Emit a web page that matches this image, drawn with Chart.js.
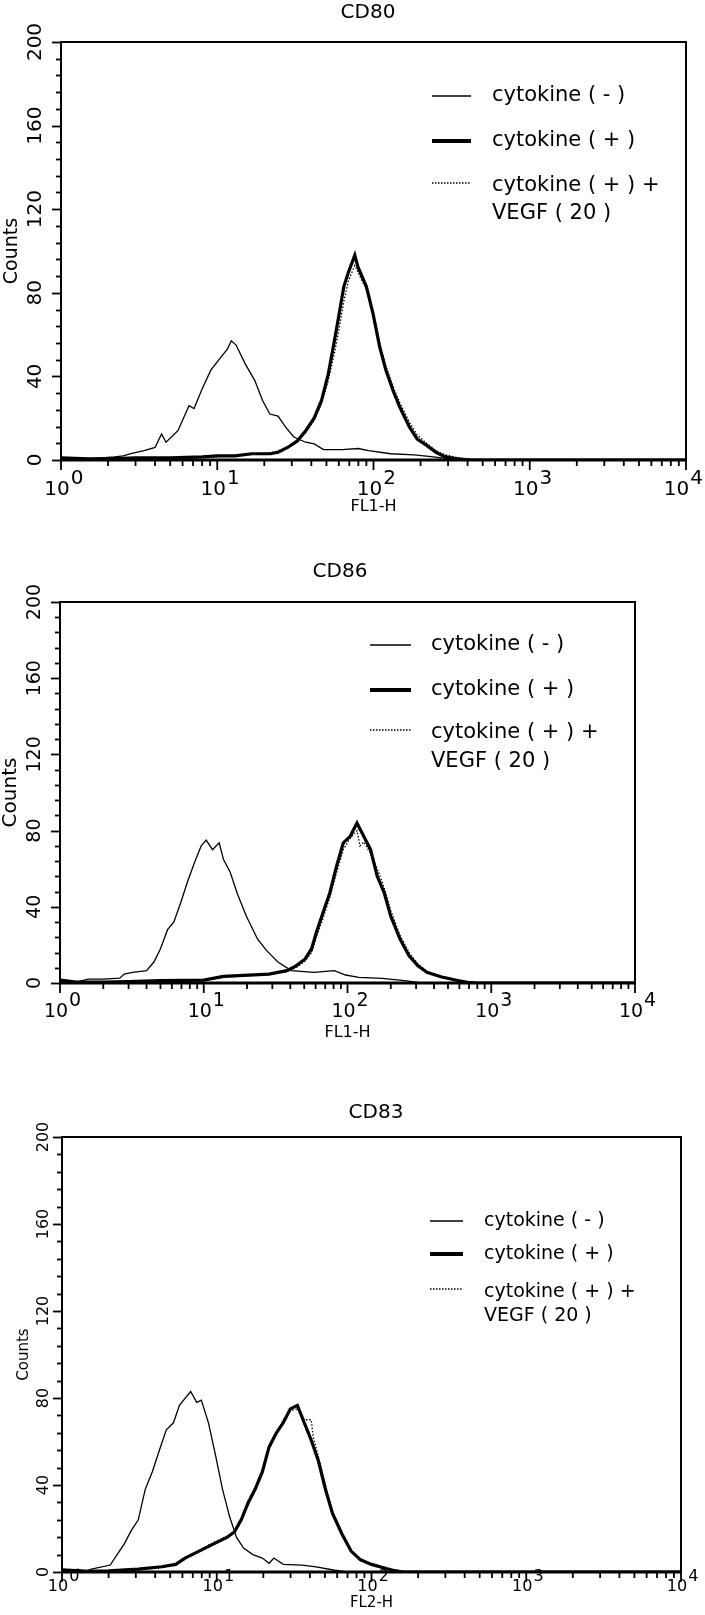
<!DOCTYPE html>
<html>
<head>
<meta charset="utf-8">
<script src="https://cdn.jsdelivr.net/npm/chart.js@4.4.1/dist/chart.umd.min.js"></script>
<style>
  html, body { margin: 0; padding: 0; background: #ffffff; }
  #wrap { position: relative; width: 705px; height: 1615px; overflow: hidden; }
  canvas { position: absolute; left: 0; }
</style>
</head>
<body>
<div id="wrap">
  <canvas id="c1" width="705" height="530" style="top:0px"></canvas>
  <canvas id="c2" width="705" height="540" style="top:530px"></canvas>
  <canvas id="c3" width="705" height="545" style="top:1070px"></canvas>
</div>
<script>
// ---------------- DATA ----------------
const panelTitles = ['CD80', 'CD86', 'CD83'];
const xAxisTitles = ['FL1-H', 'FL1-H', 'FL2-H'];
const yAxisTitle = 'Counts';
const xTickExponents = [0, 1, 2, 3, 4];
const xMinorMultipliers = [2, 3, 4, 5, 6, 7, 8, 9];
const yTickValues = [0, 40, 80, 120, 160, 200];
const yMinorStep = 8;
const seriesNames = ['cytokine ( - )', 'cytokine ( + )', 'cytokine ( + ) +'];
const seriesNameLine2 = 'VEGF ( 20 )';

// CD80 (FL1-H)
const cd80NegX = [1, 1.4, 1.8, 2.2, 2.5, 2.8, 3.4, 4.0, 4.4, 4.7, 5.6, 6.6, 7.1, 8.0, 9.1, 10.5, 11.6, 12.3, 13.2, 15.1, 17.4, 19.5, 21.7, 24.5, 27.4, 30.9, 36.8, 41.7, 47.9, 63, 80, 93, 129, 182, 234, 309, 400, 10000];
const cd80NegY = [1, 0.5, 1, 1.5, 2, 3, 4.5, 6, 12.5, 8.5, 14, 26, 24.6, 34, 43, 49, 53, 57, 55, 46, 38, 28.5, 22, 21, 15.7, 11, 8.5, 7.7, 5, 5, 5.5, 4.5, 3, 2.5, 1.6, 0.5, 0, 0];
const cd80PosX = [1, 1.5, 2, 3, 5, 8, 10, 13, 16.6, 21.9, 24.5, 28.2, 32.4, 36.8, 41.7, 46.5, 51.3, 56.2, 60.3, 64.6, 69.2, 75.9, 79.4, 90, 99.3, 109.6, 120, 133.7, 148, 170, 190.5, 218.8, 251, 286, 347, 420, 10000];
const cd80PosY = [1, 0.5, 0.5, 1, 1, 1.5, 2, 2, 3, 3, 3.7, 6, 9, 14, 20, 28.5, 41, 57, 70, 83, 90, 98, 92.5, 83, 70, 54, 43, 33, 25, 15.7, 10, 7, 3.7, 1.6, 0.5, 0, 0];
const cd80VegfX = [1, 2, 5, 10, 16, 22, 28, 32.4, 36.8, 41.7, 46.5, 51.3, 56.2, 60.3, 64.6, 69.2, 75.9, 79.4, 84, 90, 99.3, 109.6, 120, 133.7, 148, 170, 190.5, 218.8, 251, 286, 330, 380, 450, 10000];
const cd80VegfY = [0.5, 0.5, 1, 1.5, 2.5, 3.5, 5.5, 8.5, 13, 19, 27, 38, 51, 63, 76, 86, 93, 90, 86, 82, 71, 56, 45, 35, 27, 18, 12, 8, 4.5, 2.5, 1.5, 0.5, 0, 0];

// CD86 (FL1-H)
const cd86NegX = [1, 1.3, 1.57, 2.0, 2.6, 2.8, 3.2, 4.0, 4.5, 5.0, 5.6, 6.2, 6.9, 7.7, 8.6, 9.6, 10.4, 11.5, 12.8, 13.7, 15.3, 17.1, 19.8, 23.7, 27.4, 32.8, 40.7, 58.5, 81, 97, 120, 174, 249, 309, 400, 10000];
const cd86NegY = [1, 0.5, 2, 2, 2.5, 4.7, 5.6, 6.5, 11, 18, 28, 32, 42, 53, 63, 72, 75, 70, 73.6, 65, 58, 47, 35, 23, 17, 11, 6.5, 5.6, 6.5, 4.2, 3, 2.4, 1.2, 0.3, 0, 0];
const cd86PosX = [1, 1.3, 2, 3, 5, 10, 13.7, 28.4, 37.9, 43.8, 50.6, 56.3, 60.7, 67.6, 75.4, 84, 93.5, 104.4, 116.4, 129.7, 144.7, 161, 180, 200, 232, 268, 309, 357, 446, 594, 686, 800, 10000];
const cd86PosY = [1.5, 0.5, 0.5, 0.8, 1.2, 1.5, 3.5, 4.7, 6.5, 9, 12.5, 18, 26.5, 37, 47.4, 61.4, 73.6, 77, 84, 77, 70, 56, 47.4, 35, 23, 14.3, 9, 5.6, 3.3, 1.2, 0.3, 0, 0];
const cd86VegfX = [1, 2, 5, 10, 13.7, 28.4, 37.9, 43.8, 50.6, 56.3, 60.7, 67.6, 75.4, 84, 93.5, 104.4, 116.4, 122, 129.7, 144.7, 161, 180, 200, 232, 268, 309, 357, 446, 594, 686, 800, 10000];
const cd86VegfY = [1, 0.5, 1, 1.5, 3, 4.5, 6, 8, 11.5, 16, 24, 34, 45, 58, 70, 76, 80, 72, 74, 68, 60, 50, 38, 25, 16, 10, 6, 3.5, 1.5, 0.5, 0, 0];

// CD83 (FL2-H)
const cd83NegX = [1, 1.09, 1.26, 1.4, 1.55, 2.05, 2.27, 2.52, 2.8, 3.11, 3.45, 3.83, 4.26, 4.72, 5.25, 5.74, 6.24, 6.78, 7.43, 7.95, 8.84, 9.8, 10.9, 12.1, 13.4, 14.9, 17.1, 19.7, 21.8, 23.4, 26.9, 35.6, 43.8, 57.9, 70, 10000];
const cd83NegY = [1.5, 0, 1.3, 0.2, 1.3, 3.2, 8, 12.8, 19, 24, 38, 46, 56, 65.4, 68.6, 76.6, 79.8, 83, 78, 79, 68.6, 54, 38, 25.5, 16, 11, 8, 6.4, 4, 6.4, 3.5, 3.2, 2.4, 0.8, 0, 0];
const cd83PosX = [1, 1.5, 2, 3.11, 4.4, 5.43, 6.24, 7.69, 9.48, 11.7, 13, 14.4, 16, 17.7, 19.7, 21.8, 24.3, 26.9, 29.9, 33.2, 36.8, 40.8, 45.4, 50.4, 55.9, 64.3, 73.8, 84.9, 100, 124, 138, 160, 10000];
const cd83PosY = [1, 0.3, 0.5, 1.3, 2.4, 3.5, 6.4, 9.6, 12.8, 16, 18.4, 24, 32, 38, 46, 57.5, 64, 68.6, 75, 76.6, 68.6, 60.6, 51, 38, 27, 17.6, 9.6, 5.6, 3.5, 1.6, 0.8, 0, 0];
const cd83VegfX = [1, 2, 3.11, 4.4, 5.43, 6.24, 7.69, 9.48, 11.7, 13, 14.4, 16, 17.7, 19.7, 21.8, 24.3, 26.9, 29.9, 33.2, 36.8, 40.8, 42, 45.4, 50.4, 55.9, 64.3, 73.8, 84.9, 100, 124, 138, 160, 10000];
const cd83VegfY = [0.5, 0.5, 1, 2, 3.5, 6, 10, 13.5, 16.5, 19, 25, 33, 39, 47, 57, 64, 70, 74, 75, 70, 70, 62, 53, 40, 28, 18, 10, 6, 3.5, 2, 1, 0, 0];

// ---------------- RENDER ----------------
const FONT = '"DejaVu Sans", "Liberation Sans", Arial, sans-serif';
const pts = (xs, ys) => xs.map((x, i) => ({ x: x, y: ys[i] }));

const panels = [
  { id: 'c1', neg: [cd80NegX, cd80NegY], pos: [cd80PosX, cd80PosY], vegf: [cd80VegfX, cd80VegfY],
    pad: { left: 61, top: 42, right: 19, bottom: 70 },
    titleX: 368, titleY: 13, titleSize: 20,
    tickSize: 20, xLabelBase: 495, supRaise: 11, yLabelX: 36,
    countsX: 12, countsSize: 19, xTitleY: 507, xTitleSize: 16,
    legLine: [432, 471], legTextX: 492, legRows: [96, 141, 186, 214], legSize: 21 },
  { id: 'c2', neg: [cd86NegX, cd86NegY], pos: [cd86PosX, cd86PosY], vegf: [cd86VegfX, cd86VegfY],
    pad: { left: 60, top: 72, right: 70, bottom: 87 },
    titleX: 340, titleY: 42, titleSize: 20,
    tickSize: 19, xLabelBase: 487, supRaise: 11, yLabelX: 35,
    countsX: 11, countsSize: 20, xTitleY: 503, xTitleSize: 16,
    legLine: [370, 411], legTextX: 431, legRows: [115, 160, 203, 232], legSize: 21 },
  { id: 'c3', neg: [cd83NegX, cd83NegY], pos: [cd83PosX, cd83PosY], vegf: [cd83VegfX, cd83VegfY],
    pad: { left: 62, top: 67, right: 24, bottom: 43 },
    titleX: 376, titleY: 43, titleSize: 20,
    tickSize: 16, xLabelBase: 521, supRaise: 10, yLabelX: 44,
    countsX: 24, countsSize: 15, xTitleY: 533, xTitleSize: 15,
    legLine: [430, 463], legTextX: 484, legRows: [151, 184, 222, 246], legSize: 19 }
];

const panelPlugin = {
  id: 'panelDecor',
  afterDraw(chart, args, o) {
    const ctx = chart.ctx, ca = chart.chartArea;
    const xs = chart.scales.x, ys = chart.scales.y;
    ctx.save();
    ctx.strokeStyle = '#000';
    ctx.fillStyle = '#000';
    // frame
    ctx.lineWidth = 2;
    ctx.strokeRect(ca.left, ca.top, ca.right - ca.left, ca.bottom - ca.top);
    ctx.lineWidth = 3;
    ctx.beginPath(); ctx.moveTo(ca.left - 1, ca.bottom); ctx.lineTo(ca.right + 1, ca.bottom); ctx.stroke();
    // y ticks
    ctx.lineWidth = 1.8;
    for (let v = 0; v <= 200; v += yMinorStep) {
      const y = Math.round(ys.getPixelForValue(v)) + 0.5;
      const major = yTickValues.indexOf(v) >= 0;
      ctx.beginPath(); ctx.moveTo(ca.left, y); ctx.lineTo(ca.left - (major ? 9 : 5), y); ctx.stroke();
    }
    // x ticks
    for (let i = 0; i < xTickExponents.length; i++) {
      const e = xTickExponents[i];
      const px = xs.getPixelForValue(Math.pow(10, e));
      ctx.beginPath(); ctx.moveTo(px, ca.bottom); ctx.lineTo(px, ca.bottom + 10); ctx.stroke();
      if (i < xTickExponents.length - 1) {
        for (const m of xMinorMultipliers) {
          const mx = xs.getPixelForValue(m * Math.pow(10, e));
          ctx.beginPath(); ctx.moveTo(mx, ca.bottom); ctx.lineTo(mx, ca.bottom + 6); ctx.stroke();
        }
      }
    }
    // x tick labels (10 with raised exponent)
    const baseFont = o.tickSize + 'px ' + FONT;
    const supFont = o.tickSize + 'px ' + FONT;
    ctx.textBaseline = 'alphabetic';
    ctx.textAlign = 'left';
    for (const e of xTickExponents) {
      const px = xs.getPixelForValue(Math.pow(10, e));
      ctx.font = baseFont;
      const w10 = ctx.measureText('10').width;
      ctx.font = supFont;
      const ws = ctx.measureText(String(e)).width;
      let left = px - 4 - w10 / 2;
      if (left + w10 + 1 + ws > chart.width - 2) left = chart.width - 2 - w10 - 1 - ws;
      ctx.font = baseFont;
      ctx.fillText('10', left, o.xLabelBase);
      ctx.font = supFont;
      ctx.fillText(String(e), left + w10 + 1, o.xLabelBase - o.supRaise);
    }
    // y tick labels rotated
    ctx.font = baseFont;
    ctx.textAlign = 'center';
    ctx.textBaseline = 'middle';
    for (const v of yTickValues) {
      const y = ys.getPixelForValue(v);
      ctx.save();
      ctx.translate(o.yLabelX, y);
      ctx.rotate(-Math.PI / 2);
      ctx.fillText(String(v), 0, 0);
      ctx.restore();
    }
    // axis titles
    ctx.save();
    ctx.font = o.countsSize + 'px ' + FONT;
    ctx.translate(o.countsX, (ca.top + ca.bottom) / 2);
    ctx.rotate(-Math.PI / 2);
    ctx.fillText(yAxisTitle, 0, 0);
    ctx.restore();
    ctx.font = o.xTitleSize + 'px ' + FONT;
    ctx.fillText(o.xTitle, (ca.left + ca.right) / 2, o.xTitleY);
    // title
    ctx.font = o.titleSize + 'px ' + FONT;
    ctx.fillText(o.title, o.titleX, o.titleY);
    // legend
    ctx.font = o.legSize + 'px ' + FONT;
    ctx.textAlign = 'left';
    const styles = [{ w: 1.4, dash: [] }, { w: 4, dash: [] }, { w: 1.4, dash: [1.5, 1.5] }];
    for (let i = 0; i < 3; i++) {
      const ry = o.legRows[i];
      ctx.lineWidth = styles[i].w;
      ctx.setLineDash(styles[i].dash);
      ctx.beginPath();
      ctx.moveTo(o.legLine[0], ry - (i === 2 ? 3 : 0));
      ctx.lineTo(o.legLine[1], ry - (i === 2 ? 3 : 0));
      ctx.stroke();
      ctx.setLineDash([]);
      ctx.fillText(seriesNames[i], o.legTextX, ry);
    }
    ctx.fillText(seriesNameLine2, o.legTextX, o.legRows[3]);
    ctx.restore();
  }
};

panels.forEach((p, idx) => {
  new Chart(document.getElementById(p.id), {
    type: 'line',
    data: {
      datasets: [
        { label: seriesNames[0], data: pts(p.neg[0], p.neg[1]), borderColor: '#000', borderWidth: 1.3, pointRadius: 0, tension: 0, fill: false },
        { label: seriesNames[2] + ' ' + seriesNameLine2, data: pts(p.vegf[0], p.vegf[1]), borderColor: '#000', borderWidth: 1.3, borderDash: [1.5, 1.8], pointRadius: 0, tension: 0, fill: false },
        { label: seriesNames[1], data: pts(p.pos[0], p.pos[1]), borderColor: '#000', borderWidth: 3.2, pointRadius: 0, tension: 0, fill: false }
      ]
    },
    options: {
      responsive: false,
      animation: false,
      parsing: true,
      layout: { padding: p.pad },
      scales: {
        x: { type: 'logarithmic', min: 1, max: 10000, display: false },
        y: { type: 'linear', min: 0, max: 200, display: false }
      },
      plugins: {
        legend: { display: false },
        tooltip: { enabled: false },
        panelDecor: Object.assign({}, p, { title: panelTitles[idx], xTitle: xAxisTitles[idx] })
      }
    },
    plugins: [panelPlugin]
  });
});
</script>
</body>
</html>
